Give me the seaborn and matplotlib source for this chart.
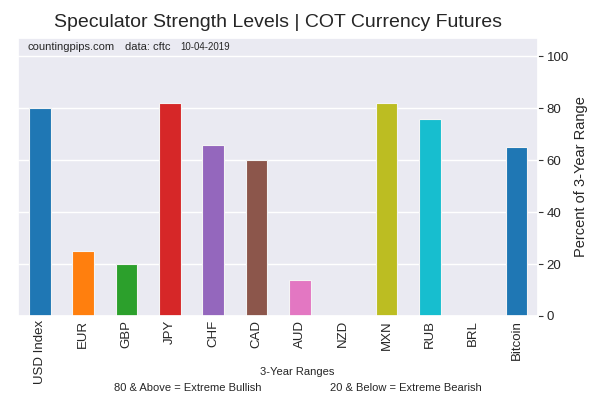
import matplotlib
matplotlib.use("Agg")
import matplotlib.pyplot as plt
import seaborn as sns
import pandas as pd

currencies = ["USD Index", "EUR", "GBP", "JPY", "CHF", "CAD", "AUD", "NZD",
              "MXN", "RUB", "BRL", "Bitcoin"]
strength = [80, 25, 20, 82, 66, 60, 14, 0, 82, 76, 0, 65]
y_ticks = [0, 20, 40, 60, 80, 100]

bar_colors = ["#1f77b4", "#ff7f0e", "#2ca02c", "#d62728", "#9467bd", "#8c564b",
              "#e377c2", "#7f7f7f", "#bcbd22", "#17becf", "#1f77b4", "#1f77b4"]

sns.set_theme(style="darkgrid")
plt.rcParams["font.family"] = ["Liberation Sans", "DejaVu Sans"]

df = pd.DataFrame({"currency": currencies, "strength": strength})

fig, ax = plt.subplots(figsize=(6, 4), dpi=100)
fig.subplots_adjust(left=0.03, right=0.897, top=0.905, bottom=0.21)

sns.barplot(data=df, x="currency", y="strength", hue="currency",
            palette=bar_colors, saturation=1, width=0.5, legend=False, ax=ax,
            edgecolor="#f4f4f4", linewidth=0.8)

ax.set_xlim(-0.5, 11.5)
ax.set_ylim(0, 107)
ax.set_yticks(y_ticks)
ax.yaxis.tick_right()
ax.yaxis.set_label_position("right")
ax.tick_params(axis="y", right=True, length=3.5, width=0.8, color="#333333",
               labelsize=9.5, pad=2.5)
ax.tick_params(axis="x", labelsize=9.5, rotation=90, length=0, pad=3)
ax.set_xlabel("")
ax.set_ylabel("Percent of 3-Year Range", fontsize=10.5, labelpad=4)

ax.set_title("Speculator Strength Levels | COT Currency Futures", fontsize=14, pad=8)

fig.text(0.045, 0.883, "countingpips.com", fontsize=8, va="center")
fig.text(0.208, 0.883, "data: cftc", fontsize=8, va="center")
fig.text(0.300, 0.883, "10-04-2019", fontsize=7, va="center")

fig.text(0.495, 0.07, "3-Year Ranges", fontsize=8, ha="center", va="center")
fig.text(0.19, 0.03, "80 & Above = Extreme Bullish", fontsize=8, va="center")
fig.text(0.55, 0.03, "20 & Below = Extreme Bearish", fontsize=8, va="center")

fig.savefig("out.png", dpi=100)
